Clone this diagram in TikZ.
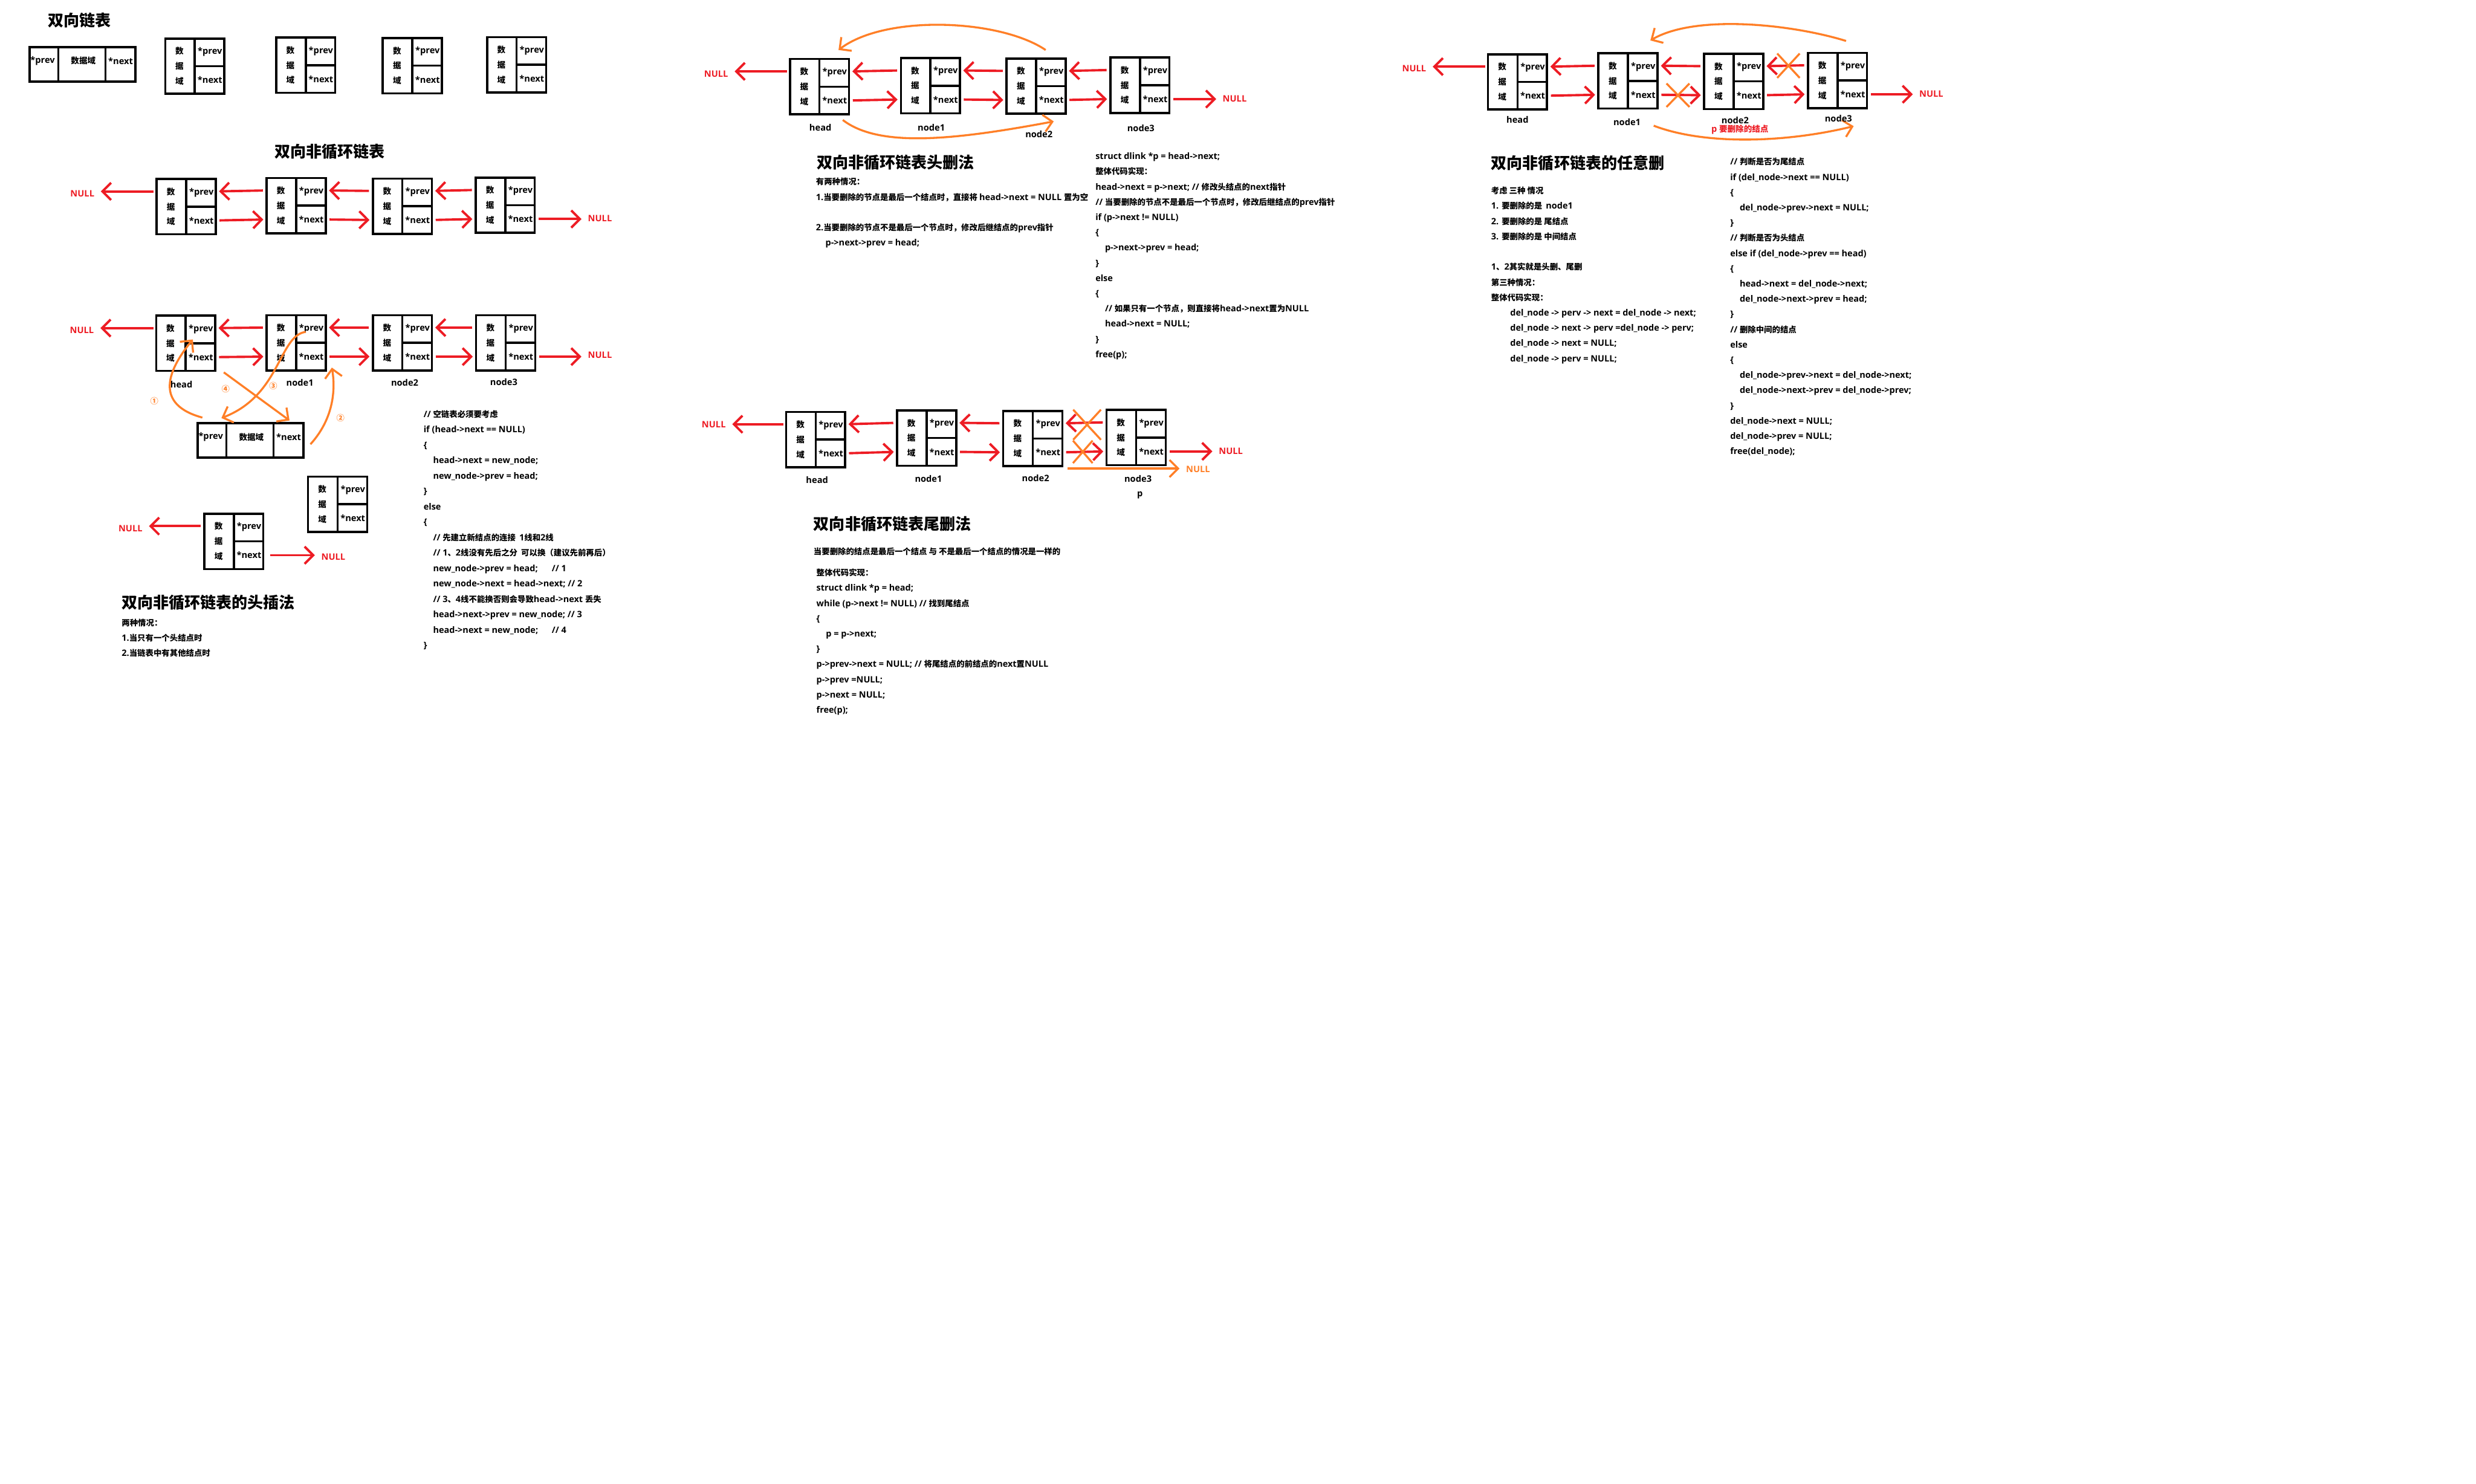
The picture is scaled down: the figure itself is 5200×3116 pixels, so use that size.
\documentclass[tikz,border=0pt]{standalone}
\usepackage{fontspec}
\usetikzlibrary{arrows.meta, calc, shapes.misc}
\setmainfont{Open Sans}[Scale=1.08]
\newfontfamily\cjkfont{Noto Sans CJK SC}
\definecolor{pred}{RGB}{237,28,36}
\definecolor{porange}{RGB}{255,127,39}

% Chinese characters in Noto Sans CJK, the rest in Open Sans
\chardef\hanclass=200
\newcount\chcnt
\newcommand{\setcls}[3]{%
  \chcnt=#1
  \loop \XeTeXcharclass\chcnt=#3
  \ifnum\chcnt<#2 \advance\chcnt by 1 \repeat}
\setcls{33}{126}{0}
\setcls{"2460}{"2473}{\hanclass}
\setcls{"3000}{"303F}{\hanclass}
\setcls{"4E00}{"9FFF}{\hanclass}
\setcls{"FF00}{"FFEF}{\hanclass}
\XeTeXinterchartoks 0 \hanclass = {\cjkfont}
\XeTeXinterchartoks 4095 \hanclass = {\cjkfont}
\XeTeXinterchartoks \hanclass 0 = {\rmfamily}
\XeTeXinterchartoks 4095 0 = {\rmfamily}
\XeTeXinterchartokenstate=1

\newcommand{\titlefont}{\fontsize{9.4}{11}\selectfont\bfseries}
\newcommand{\codefont}{\fontsize{4.84}{9.1}\selectfont\bfseries}
\newcommand{\codefontb}{\fontsize{4.84}{9.2}\selectfont\bfseries}
\newcommand{\labfont}{\fontsize{4.9}{8.96}\selectfont\bfseries}
\newcommand{\numfont}{\fontsize{4.8}{5.5}\selectfont\bfseries}

\tikzset{
  dbox/.style={draw, line width=1.3pt, minimum width=1.24cm, minimum height=1.16cm, inner sep=0pt},
  hbox/.style={draw, line width=1.3pt, minimum width=2.22cm, minimum height=0.72cm, inner sep=0pt},
  bline/.style={line width=1.3pt},
  btxt/.style={font=\labfont, inner sep=0pt},
  dtxt/.style={font=\labfont, inner sep=0pt, align=center},
  nul/.style={font=\labfont, text=pred, inner xsep=0.13cm, inner ysep=0pt},
  lbl/.style={font=\labfont, inner sep=0pt},
  ttl/.style={font=\titlefont, anchor=west, inner sep=0pt},
  txt/.style={font=\codefont, anchor=north west, inner sep=0pt, align=left},
  rarr/.style={draw=pred, line width=1.4pt, -{Straight Barb[length=0.18cm, width=0.36cm]}},
  link/.style={rarr, shorten <=0.06cm, shorten >=0.05cm},
  oarr/.style={draw=porange, line width=1.2pt, -{Straight Barb[length=0.18cm, width=0.36cm]}},
  xout/.style={cross out, draw=porange, line width=1.2pt, inner sep=0pt},
  onum/.style={font=\numfont, text=porange, inner sep=0pt},
}

% upright node: data cell on the left, *prev / *next on the right
\newcommand{\dnode}[3]{%
  \node[dbox] (#1) at (#2,#3) {};
  \draw[bline] (#1.north) -- (#1.south) (#1.center) -- (#1.east);
  \node[dtxt] (#1-d) at ($(#1.center)+(-32,0)$) {数\\据\\域};
  \node[btxt] (#1-p) at ($(#1.center)+(32,-30)$) {*prev};
  \node[btxt] (#1-n) at ($(#1.center)+(32,29)$) {*next};
  \coordinate (#1-pw) at ($(#1.center)+(-64,-32)$);
  \coordinate (#1-pe) at ($(#1.center)+(64,-32)$);
  \coordinate (#1-nw) at ($(#1.center)+(-64,29)$);
  \coordinate (#1-ne) at ($(#1.center)+(64,29)$);
}
% lying node: *prev | 数据域 | *next
\newcommand{\hnode}[3]{%
  \node[hbox] (#1) at (#2,#3) {};
  \draw[bline] ($(#1.north west)+(63,0)$) -- ($(#1.south west)+(63,0)$)
    ($(#1.north east)+(-65,0)$) -- ($(#1.south east)+(-65,0)$);
  \node[btxt] (#1-p) at ($(#1.west)+(30,-7)$) {*prev};
  \node[btxt] (#1-d) at ($(#1.center)+(2,-7)$) {数据域};
  \node[btxt] (#1-n) at ($(#1.east)+(-33,-7)$) {*next};
}

\begin{document}
\begin{tikzpicture}[x=0.01cm, y=-0.01cm]
  \useasboundingbox (0,0) rectangle (5200,3116);

  % 双向链表
  \node[ttl] (t1) at (100,43) {双向链表};
  \hnode{h0}{173}{135}
  \dnode{a1}{409}{139}
  \dnode{a2}{642}{137}
  \dnode{a3}{866}{138}
  \dnode{a4}{1085}{136}

  % 双向非循环链表
  \node[ttl] (t2) at (576,318) {双向非循环链表};
  \dnode{b1}{391}{434}
  \dnode{b2}{622}{432}
  \dnode{b3}{845}{433}
  \dnode{b4}{1061}{431}
  \node[nul] (b0) at (173,407) {NULL};
  \node[nul] (b5) at (1260,459) {NULL};
  \draw[rarr, shorten <=0.04cm] (b1-pw) -- (b1-pw -| b0.east);
  \foreach \i/\j in {1/2,2/3,3/4}{
    \draw[link] (b\j-pw) -- (b\i-pe);
    \draw[link] (b\i-ne) -- (b\j-nw);
  }
  \draw[rarr, shorten <=0.06cm] (b4-ne) -- (b4-ne -| b5.west);

  % 头插法
  \dnode{c1}{390}{721}
  \dnode{c2}{622}{720}
  \dnode{c3}{845}{720}
  \dnode{c4}{1062}{720}
  \node[nul] (c0) at (172,693) {NULL};
  \node[nul] (c5) at (1260,746) {NULL};
  \draw[rarr, shorten <=0.04cm] (c1-pw) -- (c1-pw -| c0.east);
  \foreach \i/\j in {1/2,2/3,3/4}{
    \draw[link] (c\j-pw) -- (c\i-pe);
    \draw[link] (c\i-ne) -- (c\j-nw);
  }
  \draw[rarr, shorten <=0.06cm] (c4-ne) -- (c4-ne -| c5.west);
  \node[lbl] (c1l) at (381,807) {head};
  \node[lbl] (c2l) at (630,803) {node1};
  \node[lbl] (c3l) at (850,804) {node2};
  \node[lbl] (c4l) at (1058,802) {node3};
  \hnode{cn}{526}{925}

  % 新结点的四条线
  \coordinate (o1a) at (425,877);
  \coordinate (o1b) at (405,713);
  \coordinate (o2a) at (652,933);
  \coordinate (o2b) at (697,772);
  \coordinate (o3a) at (642,697);
  \coordinate (o3b) at (465,878);
  \coordinate (o4a) at (470,782);
  \coordinate (o4b) at (608,883);
  \draw[oarr] (o1a) .. controls (325,850) and (350,780) .. (o1b);
  \draw[oarr] (o2a) .. controls (700,880) and (705,820) .. (o2b);
  \draw[oarr] (o3a) .. controls (585,705) and (590,830) .. (o3b);
  \draw[oarr] (o4a) -- (o4b);
  \node[onum] (n1) at (324,842) {①};
  \node[onum] (n2) at (715,878) {②};
  \node[onum] (n3) at (574,811) {③};
  \node[onum] (n4) at (474,817) {④};

  % 只有头结点
  \dnode{cx}{709}{1059}
  \dnode{cy}{491}{1137}
  \node[nul] (cy0) at (274,1110) {NULL};
  \node[nul] (cy5) at (700,1170) {NULL};
  \draw[rarr, shorten <=0.06cm] (cy-pw) -- (cy-pw -| cy0.east);
  \draw[rarr, shorten <=0.12cm] (cy-ne) -- (cy-ne -| cy5.west);

  \node[ttl] (t3) at (255,1265) {双向非循环链表的头插法};
  \node[txt] (s3a) at (255,1299) {两种情况：\\1.当只有一个头结点时\\2.当链表中有其他结点时};
  \node[txt, font=\codefontb] (s3b) at (889,861) {%
    // 空链表必须要考虑\\
    if (head->next == NULL)\\
    \{\\
    \hspace*{0.2cm}head->next = new\_node;\\
    \hspace*{0.2cm}new\_node->prev = head;\\
    \}\\
    else\\
    \{\\
    \hspace*{0.2cm}// 先建立新结点的连接\ \ 1线和2线\\
    \hspace*{0.2cm}// 1、2线没有先后之分\ \ 可以换（建议先前再后）\\
    \hspace*{0.2cm}\makebox[2.49cm][l]{new\_node->prev = head;}// 1\\
    \hspace*{0.2cm}new\_node->next = head->next; // 2\\
    \hspace*{0.2cm}// 3、4线不能换否则会导致head->next 丢失\\
    \hspace*{0.2cm}head->next->prev = new\_node; // 3\\
    \hspace*{0.2cm}\makebox[2.49cm][l]{head->next = new\_node;}// 4\\
    \}};

  % 头删法
  \dnode{d1}{1721}{182}
  \dnode{d2}{1954}{180}
  \dnode{d3}{2176}{181}
  \dnode{d4}{2394}{179}
  \node[nul] (d0) at (1504,155) {NULL};
  \node[nul] (d5) at (2593,207) {NULL};
  \draw[rarr, shorten <=0.04cm] (d1-pw) -- (d1-pw -| d0.east);
  \foreach \i/\j in {1/2,2/3,3/4}{
    \draw[link] (d\j-pw) -- (d\i-pe);
    \draw[link] (d\i-ne) -- (d\j-nw);
  }
  \draw[rarr, shorten <=0.06cm] (d4-ne) -- (d4-ne -| d5.west);
  \node[lbl] (d1l) at (1723,268) {head};
  \node[lbl] (d2l) at (1956,268) {node1};
  \node[lbl] (d3l) at (2182,282) {node2};
  \node[lbl] (d4l) at (2396,269) {node3};
  \coordinate (o5a) at (2196,105);
  \coordinate (o5b) at (1761,105);
  \coordinate (o6a) at (1770,252);
  \coordinate (o6b) at (2213,255);
  \draw[oarr] (o5a) .. controls (2100,40) and (1860,30) .. (o5b);
  \draw[oarr] (o6a) .. controls (1845,310) and (2000,295) .. (o6b);

  \node[ttl] (t4) at (1715,341) {双向非循环链表头删法};
  \node[txt] (s4a) at (1713,373) {%
    有两种情况：\\
    1.当要删除的节点是最后一个结点时，直接将 head->next = NULL 置为空\\[9.1pt]
    2.当要删除的节点不是最后一个节点时，修改后继结点的prev指针\\
    \hspace*{0.2cm}p->next->prev = head;};
  \node[txt] (s4b) at (2300,320) {%
    struct dlink *p = head->next;\\
    整体代码实现：\\
    head->next = p->next; // 修改头结点的next指针\\
    // 当要删除的节点不是最后一个节点时，修改后继结点的prev指针\\
    if (p->next != NULL)\\
    \{\\
    \hspace*{0.2cm}p->next->prev = head;\\
    \}\\
    else\\
    \{\\
    \hspace*{0.2cm}// 如果只有一个节点，则直接将head->next置为NULL\\
    \hspace*{0.2cm}head->next = NULL;\\
    \}\\
    free(p);};

  % 尾删法
  \dnode{e1}{1713}{923}
  \dnode{e2}{1946}{920}
  \dnode{e3}{2169}{921}
  \dnode{e4}{2386}{919}
  \node[nul] (e0) at (1499,892) {NULL};
  \node[nul] (e5) at (2585,947) {NULL};
  \node[nul, text=porange] (e6) at (2516,985) {NULL};
  \draw[rarr, shorten <=0.04cm] (e1-pw) -- (e1-pw -| e0.east);
  \foreach \i/\j in {1/2,2/3,3/4}{
    \draw[link] (e\j-pw) -- (e\i-pe);
    \draw[link] (e\i-ne) -- (e\j-nw);
  }
  \draw[rarr, shorten <=0.06cm] (e4-ne) -- (e4-ne -| e5.west);
  \node[xout, minimum width=0.54cm, minimum height=0.59cm] (x5a) at (2283,892) {};
  \node[xout, minimum width=0.37cm, minimum height=0.43cm] (x5b) at (2274,949) {};
  \coordinate (o7a) at (2242,984);
  \draw[oarr] (o7a) -- (o7a -| e6.west);
  \node[lbl] (e1l) at (1716,1008) {head};
  \node[lbl] (e2l) at (1950,1006) {node1};
  \node[lbl] (e3l) at (2175,1004) {node2};
  \node[lbl] (e4l) at (2390,1006) {node3};
  \node[lbl] (e4p) at (2394,1040) {p};

  \node[ttl] (t5) at (1708,1101) {双向非循环链表尾删法};
  \node[txt] (s5a) at (1708,1149) {当要删除的结点是最后一个结点 与 不是最后一个结点的情况是一样的};
  \node[txt] (s5b) at (1714,1194) {%
    整体代码实现：\\
    struct dlink *p = head;\\
    while (p->next != NULL) // 找到尾结点\\
    \{\\
    \hspace*{0.2cm}p = p->next;\\
    \}\\
    p->prev->next = NULL; // 将尾结点的前结点的next置NULL\\
    p->prev =NULL;\\
    p->next = NULL;\\
    free(p);};

  % 任意删
  \dnode{f1}{3187}{172}
  \dnode{f2}{3419}{170}
  \dnode{f3}{3641}{171}
  \dnode{f4}{3859}{169}
  \node[nul] (f0) at (2970,144) {NULL};
  \node[nul] (f5) at (4056,197) {NULL};
  \draw[rarr, shorten <=0.04cm] (f1-pw) -- (f1-pw -| f0.east);
  \foreach \i/\j in {1/2,2/3,3/4}{
    \draw[link] (f\j-pw) -- (f\i-pe);
    \draw[link] (f\i-ne) -- (f\j-nw);
  }
  \draw[rarr, shorten <=0.06cm] (f4-ne) -- (f4-ne -| f5.west);
  \node[xout, minimum width=0.44cm, minimum height=0.45cm] (x6a) at (3524,200) {};
  \node[xout, minimum width=0.43cm, minimum height=0.47cm] (x6b) at (3756,138) {};
  \coordinate (o8a) at (3877,86);
  \coordinate (o8b) at (3466,85);
  \coordinate (o9a) at (3473,264);
  \coordinate (o9b) at (3893,265);
  \draw[oarr] (o8a) .. controls (3760,50) and (3560,30) .. (o8b);
  \draw[oarr] (o9a) .. controls (3580,305) and (3750,300) .. (o9b);
  \node[lbl] (f1l) at (3187,252) {head};
  \node[lbl] (f2l) at (3417,256) {node1};
  \node[lbl] (f3l) at (3644,253) {node2};
  \node[lbl] (f4l) at (3861,249) {node3};
  \node[lbl, text=pred] (f3p) at (3654,272) {p 要删除的结点};

  \node[ttl] (t6) at (3131,342) {双向非循环链表的任意删};
  \node[txt] (s6a) at (3131,392) {%
    考虑 三种 情况\\
    1. 要删除的是\ \ node1\\
    2. 要删除的是 尾结点\\
    3. 要删除的是 中间结点\\[9.1pt]
    1、2其实就是头删、尾删\\
    第三种情况：\\
    整体代码实现：\\
    \hspace*{0.4cm}del\_node -> perv -> next = del\_node -> next;\\
    \hspace*{0.4cm}del\_node -> next -> perv =del\_node -> perv;\\
    \hspace*{0.4cm}del\_node -> next = NULL;\\
    \hspace*{0.4cm}del\_node -> perv = NULL;};
  \node[txt] (s6b) at (3633,331) {%
    // 判断是否为尾结点\\
    if (del\_node->next == NULL)\\
    \{\\
    \hspace*{0.2cm}del\_node->prev->next = NULL;\\
    \}\\
    // 判断是否为头结点\\
    else if (del\_node->prev == head)\\
    \{\\
    \hspace*{0.2cm}head->next = del\_node->next;\\
    \hspace*{0.2cm}del\_node->next->prev = head;\\
    \}\\
    // 删除中间的结点\\
    else\\
    \{\\
    \hspace*{0.2cm}del\_node->prev->next = del\_node->next;\\
    \hspace*{0.2cm}del\_node->next->prev = del\_node->prev;\\
    \}\\
    del\_node->next = NULL;\\
    del\_node->prev = NULL;\\
    free(del\_node);};
\end{tikzpicture}
\end{document}
